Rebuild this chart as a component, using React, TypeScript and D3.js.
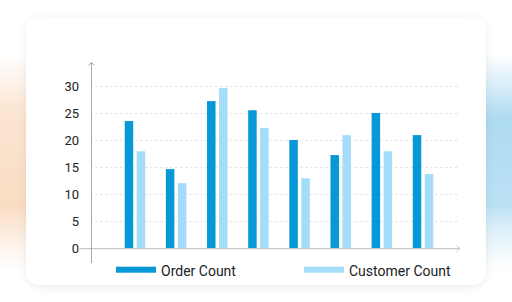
import React from "react";
import * as d3 from "d3";

const categories = ["A", "B", "C", "D", "E", "F", "G", "H"];
const orderCount = [23.6, 14.7, 27.3, 25.6, 20.1, 17.3, 25.1, 21.0];
const customerCount = [18.0, 12.1, 29.7, 22.3, 13.0, 21.0, 18.0, 13.8];
const yTicks = [0, 5, 10, 15, 20, 25, 30];
const seriesNames = ["Order Count", "Customer Count"];
const colors = ["#0798d8", "#a3ddfa"];

export default function App() {
  const W = 512, H = 302;
  const y = d3.scaleLinear().domain([0, 30]).range([248.5, 86.5]);
  const x = d3.scaleBand<string>().domain(categories).range([114.4, 443.6]).paddingInner(0).paddingOuter(0);
  const barW = 8.5;
  const gap = 3.5;
  const font = "Roboto, 'Noto Sans', sans-serif";
  return (
    <svg width={W} height={H} style={{ position: "absolute", left: 0, top: 0 }}>
      <defs>
        <linearGradient id="og" x1="0" y1="0" x2="0" y2="1">
          <stop offset="0" stopColor="#fbe3cf" stopOpacity="0" />
          <stop offset="0.25" stopColor="#fbe3cf" stopOpacity="0.9" />
          <stop offset="0.7" stopColor="#f9dcc2" stopOpacity="1" />
          <stop offset="1" stopColor="#fbe3cf" stopOpacity="0" />
        </linearGradient>
        <linearGradient id="bg" x1="0" y1="0" x2="0" y2="1">
          <stop offset="0" stopColor="#a9d8f1" stopOpacity="0" />
          <stop offset="0.3" stopColor="#a9d8f1" stopOpacity="0.95" />
          <stop offset="0.7" stopColor="#b4ddf3" stopOpacity="0.9" />
          <stop offset="1" stopColor="#d6ecf8" stopOpacity="0" />
        </linearGradient>
        <filter id="sh" x="-10%" y="-10%" width="120%" height="130%">
          <feDropShadow dx="0" dy="2" stdDeviation="4" floodColor="#000" floodOpacity="0.08" />
        </filter>
      </defs>
      <rect x={0} y={0} width={W} height={H} fill="#ffffff" />
      <rect x={0} y={55} width={40} height={215} fill="url(#og)" />
      <rect x={470} y={55} width={42} height={215} fill="url(#bg)" />
      <rect x={26} y={17} width={460} height={268} rx={14} fill="#ffffff" filter="url(#sh)" />
      {yTicks.filter((t) => t > 0).map((t) => (
        <line key={t} x1={95} x2={460} y1={y(t)} y2={y(t)} stroke="#dcdcdc" strokeWidth={0.8} strokeDasharray="2.5,2.5" />
      ))}
      {yTicks.map((t) => (
        <text key={t} x={79} y={y(t)} dy="0.36em" textAnchor="end" fontFamily={font} fontSize={13} fill="#222">
          {t}
        </text>
      ))}
      {categories.map((c, i) => {
        const cx = (x(c) as number) + x.bandwidth() / 2;
        return (
          <g key={c}>
            <rect x={cx - gap / 2 - barW} y={y(orderCount[i])} width={barW} height={y(0) - y(orderCount[i])} fill={colors[0]} />
            <rect x={cx + gap / 2} y={y(customerCount[i])} width={barW} height={y(0) - y(customerCount[i])} fill={colors[1]} />
          </g>
        );
      })}
      <line x1={78} x2={460} y1={248.7} y2={248.7} stroke="#c8c8c8" strokeWidth={1.2} />
      <path d="M456.5,245.5 L460,248.7 L456.5,252" fill="none" stroke="#c8c8c8" strokeWidth={1} />
      <line x1={91.5} x2={91.5} y1={62} y2={263} stroke="#a8a8a8" strokeWidth={1} />
      <path d="M88.5,65.5 L91.5,62.5 L94.5,65.5" fill="none" stroke="#a8a8a8" strokeWidth={1} />
      {seriesNames.map((s, i) => {
        const lx = i === 0 ? 116 : 304;
        return (
          <g key={s}>
            <rect x={lx} y={266.7} width={40} height={6} fill={colors[i]} />
            <text x={lx + 45} y={275.8} fontFamily={font} fontSize={14} fill="#222">
              {s}
            </text>
          </g>
        );
      })}
    </svg>
  );
}
